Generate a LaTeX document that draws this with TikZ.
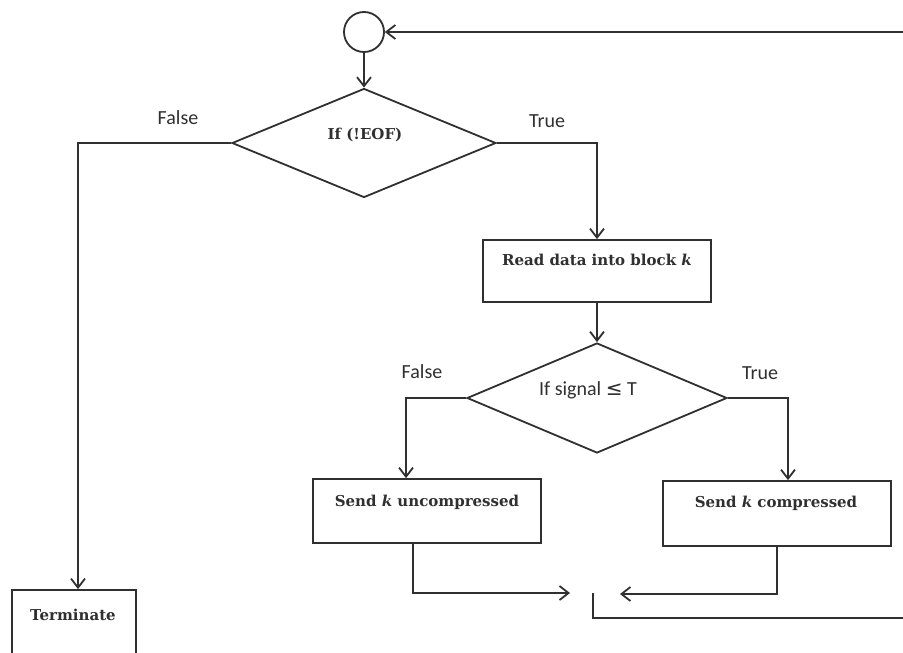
\documentclass[tikz,border=0pt]{standalone}
\usepackage{fontspec}
\setmainfont{DejaVu Serif}
\newfontfamily\lblfont{Carlito}
\newfontfamily\symfont{DejaVu Sans}
\usetikzlibrary{shapes.geometric,arrows.meta}
\definecolor{ink}{HTML}{303030}
\begin{document}
\begin{tikzpicture}[x=1pt,y=-1pt,
  conn/.style={draw=ink, line width=1.8pt},
  arr/.style={conn, -{Straight Barb[length=9pt,width=14pt,line width=1.8pt]}},
  rbox/.style={draw=ink, line width=1.8pt, rectangle, inner sep=0pt},
  circ/.style={draw=ink, line width=1.8pt, circle, inner sep=0pt, minimum size=40pt},
  dia/.style={draw=ink, line width=1.8pt, diamond, inner sep=0pt},
  txt/.style={font=\fontsize{15}{17}\selectfont\bfseries, text=ink, inner sep=0pt},
  lbl/.style={font=\lblfont\fontsize{20}{22}\selectfont, text=ink, inner sep=0pt}]
\useasboundingbox (0,0) rectangle (903,653);
\fill[white] (0,0) rectangle (903,653);

% shapes
\node[circ] (start) at (364,32) {};
\node[dia, minimum width=264pt, minimum height=109pt] (d1) at (364,143) {};
\node[txt] (d1t) at (365,135) {If (!EOF)};
\node[rbox, minimum width=228pt, minimum height=62pt] (b1) at (597,271) {};
\node[txt] (b1t) at (597,260) {Read data into block \textit{k}};
\node[dia, minimum width=260pt, minimum height=110pt] (d2) at (597,398) {};
\node[lbl] (d2t) at (588,390) {If signal {\symfont ≤} T};
\node[rbox, minimum width=228pt, minimum height=64pt] (b2) at (427,511) {};
\node[txt] (b2t) at (427,502) {Send \textit{k} uncompressed};
\node[rbox, minimum width=228pt, minimum height=65pt] (b3) at (777,513.5) {};
\node[txt] (b3t) at (776,503) {Send \textit{k} compressed};
\node[rbox, minimum width=124pt, minimum height=80pt] (term) at (74,630) {};
\node[txt] (termt) at (73,615) {Terminate};

% branch labels
\node[lbl] (f1) at (178,118) {False};
\node[lbl] (t1) at (547,121) {True};
\node[lbl] (f2) at (422,372) {False};
\node[lbl] (t2) at (760,373) {True};

% free ends
\coordinate (rt) at (903,32);
\coordinate (m1) at (570,593);
\coordinate (m2) at (620,594);
\coordinate (j1) at (593,593);
\coordinate (j2) at (593,618);
\coordinate (rb) at (903,618);

% connectors
\draw[arr] (rt) -- (start);
\draw[arr] (start) -- (d1);
\draw[arr] (d1.west) -| ([xshift=4pt]term.north);
\draw[arr] (d1.east) -| (b1.north);
\draw[arr] (b1) -- (d2);
\draw[arr] (d2.west) -| ([xshift=-21pt]b2.north);
\draw[arr] (d2.east) -| ([xshift=11pt]b3.north);
\draw[arr] ([xshift=-14pt]b2.south) |- (m1);
\draw[arr] (b3.south) |- (m2);
\draw[conn] (j1) -- (j2) -- (rb);
\end{tikzpicture}
\end{document}
